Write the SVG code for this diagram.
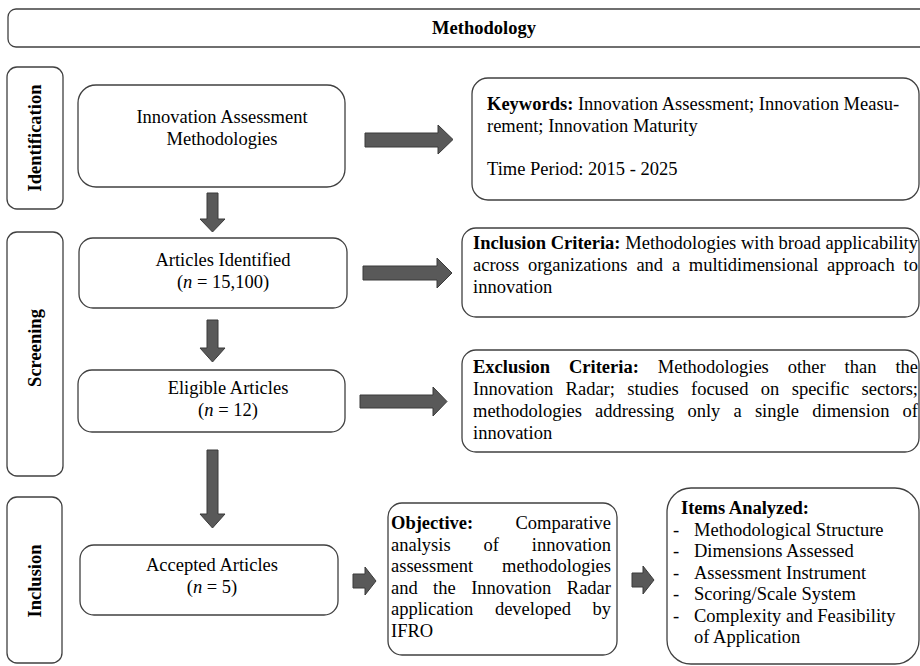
<svg xmlns="http://www.w3.org/2000/svg" width="920" height="666" viewBox="0 0 920 666">
<style>
text{font-family:"Liberation Serif","Times New Roman",serif;font-size:18.5px;fill:#000}
.b{font-weight:bold}
.c{text-anchor:middle}
.e{text-anchor:end}
.box{fill:#fff;stroke:#404040;stroke-width:1.3}
.arr{fill:#595959;stroke:#3a3a3a;stroke-width:1}
</style>
<rect width="920" height="666" fill="#fff"/>
<g id="header">
<rect class="box" x="8" y="9" width="922" height="38" rx="8"/>
<text class="b c" x="484" y="34">Methodology</text>
</g>
<g id="label-identification">
<rect class="box" x="7" y="67" width="56" height="142" rx="10"/>
<text class="b c" transform="translate(41,138) rotate(-90)">Identification</text>
</g>
<g id="label-screening">
<rect class="box" x="7" y="232" width="56" height="244" rx="10"/>
<text class="b c" transform="translate(41,348) rotate(-90)">Screening</text>
</g>
<g id="label-inclusion">
<rect class="box" x="7" y="497" width="55" height="166" rx="10"/>
<text class="b c" transform="translate(41,581) rotate(-90)">Inclusion</text>
</g>
<g id="node-methodologies">
<rect class="box" x="78" y="85" width="267" height="102" rx="18"/>
<text class="c" x="222" y="123">Innovation Assessment</text>
<text class="c" x="222" y="145">Methodologies</text>
</g>
<g id="node-identified">
<rect class="box" x="79" y="238" width="268" height="70" rx="14"/>
<text class="c" x="223" y="266">Articles Identified</text>
<text class="c" x="223" y="288">(<tspan font-style="italic">n</tspan> = 15,100)</text>
</g>
<g id="node-eligible">
<rect class="box" x="78" y="370" width="267" height="62" rx="14"/>
<text class="c" x="228" y="394">Eligible Articles</text>
<text class="c" x="228" y="416">(<tspan font-style="italic">n</tspan> = 12)</text>
</g>
<g id="node-accepted">
<rect class="box" x="80" y="545" width="258" height="70" rx="14"/>
<text class="c" x="212" y="571">Accepted Articles</text>
<text class="c" x="212" y="593">(<tspan font-style="italic">n</tspan> = 5)</text>
</g>
<g id="node-keywords">
<rect class="box" x="472" y="78" width="447" height="122" rx="16"/>
<text x="487" y="110"><tspan class="b">Keywords:</tspan> Innovation Assessment; Innovation Measu-</text>
<text x="487" y="132">rement; Innovation Maturity</text>
<text x="487" y="175">Time Period: 2015 - 2025</text>
</g>
<g id="node-inclusion-criteria">
<rect class="box" x="462" y="228" width="457" height="89" rx="14"/>
<text y="249"><tspan class="b" x="473">Inclusion</tspan><tspan class="b" x="550.7">Criteria:</tspan><tspan x="625.3">Methodologies</tspan><tspan x="741">with</tspan><tspan x="778.6">broad</tspan></text>
<text class="e" x="918" y="249">applicability</text>
<text y="271"><tspan x="473">across</tspan><tspan x="528">organizations</tspan><tspan x="636.4">and</tspan><tspan x="671.9">a</tspan><tspan x="688.8">multidimensional</tspan><tspan x="827">approach</tspan></text>
<text class="e" x="918" y="271">to</text>
<text x="473" y="293">innovation</text>
</g>
<g id="node-exclusion-criteria">
<rect class="box" x="462" y="350" width="457" height="102" rx="14"/>
<text y="373"><tspan class="b" x="473">Exclusion</tspan><tspan class="b" x="569">Criteria:</tspan><tspan x="657.8">Methodologies</tspan><tspan x="787.7">other</tspan><tspan x="844.6">than</tspan></text>
<text class="e" x="918" y="373">the</text>
<text y="395"><tspan x="473">Innovation</tspan><tspan x="565.6">Radar;</tspan><tspan x="627.2">studies</tspan><tspan x="691">focused</tspan><tspan x="760.8">on</tspan><tspan x="791.7">specific</tspan></text>
<text class="e" x="918" y="395">sectors;</text>
<text y="417"><tspan x="473">methodologies</tspan><tspan x="595.1">addressing</tspan><tspan x="687.4">only</tspan><tspan x="733.5">a</tspan><tspan x="754.9">single</tspan><tspan x="812.3">dimension</tspan></text>
<text class="e" x="918" y="417">of</text>
<text x="473" y="439">innovation</text>
</g>
<g id="node-objective">
<rect class="box" x="388" y="503" width="229" height="152" rx="14"/>
<text class="b" x="391" y="529">Objective:</text>
<text class="e" x="611" y="529">Comparative</text>
<text y="550.5"><tspan x="391">analysis</tspan><tspan x="483.5">of</tspan></text>
<text class="e" x="611" y="550.5">innovation</text>
<text x="391" y="572">assessment</text>
<text class="e" x="611" y="572">methodologies</text>
<text y="593.5"><tspan x="391">and</tspan><tspan x="433.1">the</tspan><tspan x="471.2">Innovation</tspan></text>
<text class="e" x="611" y="593.5">Radar</text>
<text y="615"><tspan x="391">application</tspan><tspan x="494.9">developed</tspan></text>
<text class="e" x="611" y="615">by</text>
<text x="391" y="636.5">IFRO</text>
</g>
<g id="node-items">
<rect class="box" x="667" y="488" width="252" height="176" rx="24"/>
<text class="b" x="681" y="514">Items Analyzed:</text>
<text x="673" y="535.5">-</text><text x="694" y="535.5">Methodological Structure</text>
<text x="673" y="557">-</text><text x="694" y="557">Dimensions Assessed</text>
<text x="673" y="578.5">-</text><text x="694" y="578.5">Assessment Instrument</text>
<text x="673" y="600">-</text><text x="694" y="600">Scoring/Scale System</text>
<text x="673" y="621.5">-</text><text x="694" y="621.5">Complexity and Feasibility</text>
<text x="694" y="643">of Application</text>
</g>
<g id="connectors">
<path class="arr" d="M365,133 H438 V125 L453,139.5 L438,154 V147 H365 Z"/>
<path class="arr" d="M363,266 H437 V258 L452,273 L437,288 V280 H363 Z"/>
<path class="arr" d="M360,395 H433 V387 L447,401.5 L433,416 V408 H360 Z"/>
<path class="arr" d="M207,193 H218 V219 H225 L212.5,232 L200,219 H207 Z"/>
<path class="arr" d="M207,320 H218 V348 H225 L212.5,362 L200,348 H207 Z"/>
<path class="arr" d="M207,450 H218 V514 H225 L212.5,528 L200,514 H207 Z"/>
<path class="arr" d="M353,574 H365 V567 L376,581 L365,595 V588 H353 Z"/>
<path class="arr" d="M632,573 H643 V566 L654,580 L643,594 V587 H632 Z"/>
</g>
</svg>
